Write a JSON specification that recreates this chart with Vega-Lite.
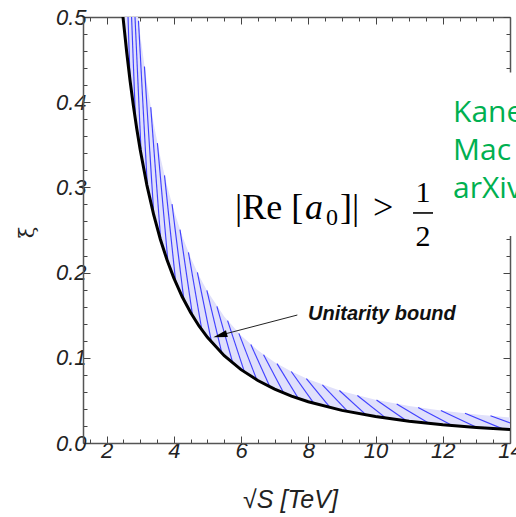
{
  "$schema": "https://vega.github.io/schema/vega-lite/v6.json",
  "width": 427,
  "height": 426,
  "autosize": {"type": "none"},
  "padding": {"left": 83, "top": 17, "right": 6, "bottom": 74},
  "background": "white",
  "config": {"view": {"stroke": null}},
  "datasets": {
    "band": [
      {"x": 2.45, "lower": 0.5165, "upper": 0.7148},
      {"x": 2.5, "lower": 0.496, "upper": 0.6868},
      {"x": 2.6, "lower": 0.4586, "upper": 0.6356},
      {"x": 2.7, "lower": 0.4252, "upper": 0.59},
      {"x": 2.8, "lower": 0.3954, "upper": 0.5492},
      {"x": 2.9, "lower": 0.3686, "upper": 0.5126},
      {"x": 3.0, "lower": 0.3444, "upper": 0.4795},
      {"x": 3.2, "lower": 0.3027, "upper": 0.4225},
      {"x": 3.4, "lower": 0.2682, "upper": 0.3752},
      {"x": 3.6, "lower": 0.2392, "upper": 0.3356},
      {"x": 3.8, "lower": 0.2147, "upper": 0.302},
      {"x": 4.0, "lower": 0.1938, "upper": 0.2734},
      {"x": 4.25, "lower": 0.1716, "upper": 0.2431},
      {"x": 4.5, "lower": 0.1531, "upper": 0.2178},
      {"x": 4.75, "lower": 0.1374, "upper": 0.1963},
      {"x": 5.0, "lower": 0.124, "upper": 0.178},
      {"x": 5.5, "lower": 0.1025, "upper": 0.1486},
      {"x": 6.0, "lower": 0.0861, "upper": 0.1262},
      {"x": 6.5, "lower": 0.0734, "upper": 0.1088},
      {"x": 7.0, "lower": 0.0633, "upper": 0.0949},
      {"x": 7.5, "lower": 0.0551, "upper": 0.0838},
      {"x": 8.0, "lower": 0.0484, "upper": 0.0747},
      {"x": 9.0, "lower": 0.0383, "upper": 0.0607},
      {"x": 10.0, "lower": 0.031, "upper": 0.0508},
      {"x": 11.0, "lower": 0.0256, "upper": 0.0434},
      {"x": 12.0, "lower": 0.0215, "upper": 0.0378},
      {"x": 13.0, "lower": 0.0183, "upper": 0.0335},
      {"x": 14.0, "lower": 0.0158, "upper": 0.03}
    ],
    "hatch": [
      {"xa": 2.477, "ya": 0.6995, "xb": 2.7, "yb": 0.4252},
      {"xa": 2.626, "ya": 0.6233, "xb": 2.862, "yb": 0.3785},
      {"xa": 2.783, "ya": 0.5558, "xb": 3.033, "yb": 0.337},
      {"xa": 2.95, "ya": 0.4956, "xb": 3.216, "yb": 0.2998},
      {"xa": 3.127, "ya": 0.442, "xb": 3.408, "yb": 0.2668},
      {"xa": 3.315, "ya": 0.3942, "xb": 3.613, "yb": 0.2374},
      {"xa": 3.513, "ya": 0.352, "xb": 3.829, "yb": 0.2115},
      {"xa": 3.724, "ya": 0.3141, "xb": 4.059, "yb": 0.1881},
      {"xa": 3.948, "ya": 0.2804, "xb": 4.303, "yb": 0.1674},
      {"xa": 4.185, "ya": 0.2505, "xb": 4.561, "yb": 0.149},
      {"xa": 4.436, "ya": 0.2238, "xb": 4.835, "yb": 0.1326},
      {"xa": 4.702, "ya": 0.2002, "xb": 5.125, "yb": 0.118},
      {"xa": 4.984, "ya": 0.1791, "xb": 5.433, "yb": 0.105},
      {"xa": 5.283, "ya": 0.1603, "xb": 5.758, "yb": 0.0935},
      {"xa": 5.6, "ya": 0.1436, "xb": 6.104, "yb": 0.0832},
      {"xa": 5.936, "ya": 0.1287, "xb": 6.47, "yb": 0.0741},
      {"xa": 6.292, "ya": 0.1155, "xb": 6.858, "yb": 0.0659},
      {"xa": 6.67, "ya": 0.1037, "xb": 7.27, "yb": 0.0587},
      {"xa": 7.07, "ya": 0.0932, "xb": 7.706, "yb": 0.0522},
      {"xa": 7.494, "ya": 0.0839, "xb": 8.168, "yb": 0.0465},
      {"xa": 7.944, "ya": 0.0756, "xb": 8.659, "yb": 0.0413},
      {"xa": 8.42, "ya": 0.0682, "xb": 9.178, "yb": 0.0368},
      {"xa": 8.925, "ya": 0.0616, "xb": 9.728, "yb": 0.0328},
      {"xa": 9.461, "ya": 0.0558, "xb": 10.312, "yb": 0.0292},
      {"xa": 10.029, "ya": 0.0505, "xb": 10.932, "yb": 0.0259},
      {"xa": 10.63, "ya": 0.0459, "xb": 11.587, "yb": 0.0231},
      {"xa": 11.268, "ya": 0.0418, "xb": 12.282, "yb": 0.0206},
      {"xa": 11.944, "ya": 0.0381, "xb": 13.019, "yb": 0.0183},
      {"xa": 12.661, "ya": 0.0349, "xb": 13.8, "yb": 0.0163},
      {"xa": 13.42, "ya": 0.0319, "xb": 14.628, "yb": 0.0145}
    ]
  },
  "resolve": {"axis": {"x": "independent", "y": "independent"}},
  "layer": [
    {
      "data": {"name": "band"},
      "mark": {"type": "area", "fill": "#e0e0fb", "clip": true},
      "encoding": {
        "x": {
          "field": "x", "type": "quantitative",
          "scale": {"domain": [1.3, 14], "nice": false, "zero": false},
          "axis": {
            "orient": "bottom",
            "values": [1.5, 2, 2.5, 3, 3.5, 4, 4.5, 5, 5.5, 6, 6.5, 7, 7.5, 8, 8.5, 9, 9.5, 10, 10.5, 11, 11.5, 12, 12.5, 13, 13.5, 14],
            "tickSize": {"condition": {"test": "abs(datum.value/2 - round(datum.value/2)) < 0.001", "value": -7}, "value": -4},
            "labelExpr": "abs(datum.value/2 - round(datum.value/2)) < 0.001 ? format(datum.value, 'd') : ''",
            "labelFont": "Liberation Sans", "labelFontStyle": "italic", "labelFontSize": 22, "labelColor": "#222",
            "labelPadding": 4, "labelFlush": false, "labelOverlap": false,
            "domainColor": "#555", "domainWidth": 1.5, "tickColor": "#444", "tickWidth": 1, "grid": false,
            "title": "√S  [TeV]", "titleFont": "Liberation Sans", "titleFontStyle": "italic", "titleFontWeight": "normal",
            "titleFontSize": 25, "titleColor": "#222", "titleX": 207, "titleY": 56, "titleAlign": "center", "titleBaseline": "middle"
          }
        },
        "y": {
          "field": "upper", "type": "quantitative",
          "scale": {"domain": [0, 0.5], "nice": false},
          "axis": {
            "orient": "left",
            "values": [0, 0.02, 0.04, 0.06, 0.08, 0.1, 0.12, 0.14, 0.16, 0.18, 0.2, 0.22, 0.24, 0.26, 0.28, 0.3, 0.32, 0.34, 0.36, 0.38, 0.4, 0.42, 0.44, 0.46, 0.48, 0.5],
            "tickSize": {"condition": {"test": "abs(datum.value*10 - round(datum.value*10)) < 0.001", "value": -7}, "value": -4},
            "labelExpr": "abs(datum.value*10 - round(datum.value*10)) < 0.001 ? format(datum.value, '.1f') : ''",
            "labelFont": "Liberation Sans", "labelFontStyle": "italic", "labelFontSize": 22, "labelColor": "#222",
            "labelPadding": 4, "labelFlush": false, "labelOverlap": false,
            "domainColor": "#555", "domainWidth": 1.5, "tickColor": "#444", "tickWidth": 1, "grid": false,
            "title": "ξ", "titleFont": "DejaVu Serif", "titleFontWeight": "normal", "titleFontSize": 21, "titleColor": "#222",
            "titleX": -56, "titleY": 215, "titleAlign": "center", "titleBaseline": "middle", "titleAngle": -90
          }
        },
        "y2": {"field": "lower"}
      }
    },
    {
      "data": {"name": "hatch"},
      "mark": {"type": "rule", "stroke": "#4040ff", "strokeWidth": 1.15, "clip": true},
      "encoding": {
        "x": {"field": "xa", "type": "quantitative", "axis": null},
        "y": {"field": "ya", "type": "quantitative", "axis": null},
        "x2": {"field": "xb"},
        "y2": {"field": "yb"}
      }
    },
    {
      "data": {"name": "band"},
      "mark": {"type": "line", "stroke": "black", "strokeWidth": 3, "clip": true},
      "encoding": {
        "x": {
          "field": "x", "type": "quantitative",
          "axis": {
            "orient": "top",
            "values": [1.5, 2, 2.5, 3, 3.5, 4, 4.5, 5, 5.5, 6, 6.5, 7, 7.5, 8, 8.5, 9, 9.5, 10, 10.5, 11, 11.5, 12, 12.5, 13, 13.5, 14],
            "tickSize": {"condition": {"test": "abs(datum.value/2 - round(datum.value/2)) < 0.001", "value": -7}, "value": -4},
            "labels": false, "title": null,
            "domainColor": "#555", "domainWidth": 1.5, "tickColor": "#444", "tickWidth": 1, "grid": false
          }
        },
        "y": {
          "field": "lower", "type": "quantitative",
          "axis": {
            "orient": "right",
            "values": [0, 0.02, 0.04, 0.06, 0.08, 0.1, 0.12, 0.14, 0.16, 0.18, 0.2, 0.22, 0.24, 0.26, 0.28, 0.3, 0.32, 0.34, 0.36, 0.38, 0.4, 0.42, 0.44, 0.46, 0.48, 0.5],
            "tickSize": {"condition": {"test": "abs(datum.value*10 - round(datum.value*10)) < 0.001", "value": -7}, "value": -4},
            "labels": false, "title": null,
            "domainColor": "#555", "domainWidth": 1.5, "tickColor": "#444", "tickWidth": 1, "grid": false
          }
        }
      }
    },
    {
      "data": {"values": [{"x1": 12.0, "x2": 14.6, "y1": 0.243, "y2": 0.435}]},
      "mark": {"type": "rect", "fill": "white", "clip": false},
      "encoding": {
        "x": {"field": "x1", "type": "quantitative", "axis": null},
        "x2": {"field": "x2"},
        "y": {"field": "y1", "type": "quantitative", "axis": null},
        "y2": {"field": "y2"}
      }
    },
    {
      "data": {"values": [{"x": 12.306, "y": 0.3768, "t": "Kane"}, {"x": 12.306, "y": 0.3322, "t": "Mac"}, {"x": 12.306, "y": 0.2876, "t": "arXiv"}]},
      "mark": {"type": "text", "font": "Open Sans", "fontSize": 30, "fill": "#00b050", "align": "left", "baseline": "alphabetic", "clip": false},
      "encoding": {
        "x": {"field": "x", "type": "quantitative", "axis": null},
        "y": {"field": "y", "type": "quantitative", "axis": null},
        "text": {"field": "t"}
      }
    },
    {
      "data": {"values": [{"x": 5.822, "y": 0.2629, "t": "|Re ["}, {"x": 8.945, "y": 0.2629, "t": "]|"}, {"x": 9.927, "y": 0.2629, "t": ">"}]},
      "mark": {"type": "text", "font": "Liberation Serif", "fontSize": 36, "fill": "black", "align": "left", "baseline": "alphabetic"},
      "encoding": {
        "x": {"field": "x", "type": "quantitative", "axis": null},
        "y": {"field": "y", "type": "quantitative", "axis": null},
        "text": {"field": "t"}
      }
    },
    {
      "data": {"values": [{"x": 7.904, "y": 0.2629, "t": "a"}]},
      "mark": {"type": "text", "font": "Liberation Serif", "fontSize": 36, "fontStyle": "italic", "fill": "black", "align": "left", "baseline": "alphabetic"},
      "encoding": {
        "x": {"field": "x", "type": "quantitative", "axis": null},
        "y": {"field": "y", "type": "quantitative", "axis": null},
        "text": {"field": "t"}
      }
    },
    {
      "data": {"values": [{"x": 8.529, "y": 0.2559, "t": "0"}]},
      "mark": {"type": "text", "font": "Liberation Serif", "fontSize": 24, "fill": "black", "align": "left", "baseline": "alphabetic"},
      "encoding": {
        "x": {"field": "x", "type": "quantitative", "axis": null},
        "y": {"field": "y", "type": "quantitative", "axis": null},
        "text": {"field": "t"}
      }
    },
    {
      "data": {"values": [{"x": 11.414, "y": 0.2829, "t": "1"}, {"x": 11.414, "y": 0.2312, "t": "2"}]},
      "mark": {"type": "text", "font": "Liberation Serif", "fontSize": 30, "fill": "black", "align": "center", "baseline": "alphabetic"},
      "encoding": {
        "x": {"field": "x", "type": "quantitative", "axis": null},
        "y": {"field": "y", "type": "quantitative", "axis": null},
        "text": {"field": "t"}
      }
    },
    {
      "data": {"values": [{"x1": 11.116, "x2": 11.71, "y": 0.27}]},
      "mark": {"type": "rule", "stroke": "black", "strokeWidth": 1.6},
      "encoding": {
        "x": {"field": "x1", "type": "quantitative", "axis": null},
        "x2": {"field": "x2"},
        "y": {"field": "y", "type": "quantitative", "axis": null}
      }
    },
    {
      "data": {"values": [{"x1": 7.675, "y1": 0.1502, "x2": 5.3, "y2": 0.1257}]},
      "mark": {"type": "rule", "stroke": "#222", "strokeWidth": 1},
      "encoding": {
        "x": {"field": "x1", "type": "quantitative", "axis": null},
        "y": {"field": "y1", "type": "quantitative", "axis": null},
        "x2": {"field": "x2"},
        "y2": {"field": "y2"}
      }
    },
    {
      "data": {"values": [{"x": 5.379, "y": 0.1262}]},
      "mark": {"type": "point", "shape": "M0,-1L0.5,1L-0.5,1Z", "size": 196, "angle": 255, "filled": true, "fill": "black", "stroke": null, "opacity": 1},
      "encoding": {
        "x": {"field": "x", "type": "quantitative", "axis": null},
        "y": {"field": "y", "type": "quantitative", "axis": null}
      }
    },
    {
      "data": {"values": [{"x": 7.993, "y": 0.1444, "t": "Unitarity bound"}]},
      "mark": {"type": "text", "font": "Liberation Sans", "fontSize": 20, "fontStyle": "italic", "fontWeight": "bold", "fill": "#111", "align": "left", "baseline": "alphabetic"},
      "encoding": {
        "x": {"field": "x", "type": "quantitative", "axis": null},
        "y": {"field": "y", "type": "quantitative", "axis": null},
        "text": {"field": "t"}
      }
    }
  ]
}
